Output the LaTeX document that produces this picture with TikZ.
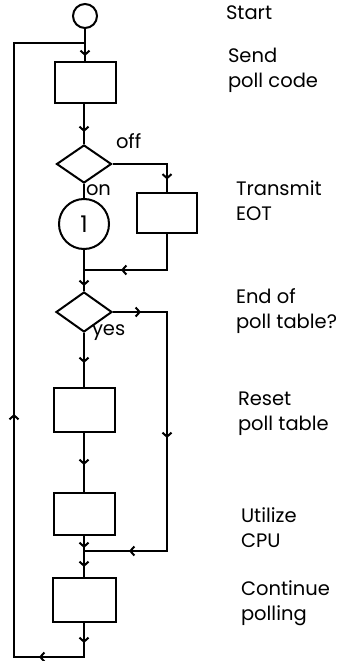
\documentclass[tikz,border=0pt]{standalone}
\usepackage{fontspec}
\setmainfont{Poppins}
\usetikzlibrary{shapes.geometric,arrows.meta,decorations.markings}
\begin{document}
\begin{tikzpicture}[x=1pt,y=-1pt, line width=2pt,
  box/.style={draw, rectangle, minimum width=61pt, minimum height=42pt, inner sep=0pt},
  dia/.style={draw, diamond, minimum width=56pt, minimum height=39pt, inner sep=0pt},
  conn/.style={draw, circle, inner sep=0pt},
  lbl/.style={anchor=base west, inner sep=0pt, font=\fontsize{19.5}{25}\selectfont},
  ms/.style={postaction={decorate, decoration={markings, mark=at position #1pt with {\arrow{Straight Barb[length=4pt,width=9pt]}}}}},
]
\useasboundingbox (0,0) rectangle (363,661);
% nodes
\node[conn, minimum size=24pt] (start) at (85,16) {};
\node[box, minimum height=41pt] (send) at (85,82.5) {};
\node[dia, minimum width=55pt, minimum height=38pt] (d1) at (84,164) {};
\node[conn, minimum size=50pt, font=\fontsize{23}{26}\selectfont] (c1) at (84,224) {1};
\node[box, minimum width=60pt, minimum height=40pt] (tx) at (167,213) {};
\node[dia, minimum width=56pt, minimum height=40pt] (d2) at (84,312) {};
\node[box, minimum height=44pt] (reset) at (84,410) {};
\node[box, minimum height=42pt] (util) at (84,514) {};
\node[box, minimum width=63pt, minimum height=44pt] (cont) at (84,600) {};
% coordinates
\coordinate (j0) at (85,43);
\coordinate (lt) at (14,43);
\coordinate (lb) at (14,657);
\coordinate (jb) at (84,657);
\coordinate (o1) at (167,164);
\coordinate (j1) at (84,270);
\coordinate (r1) at (167,312);
\coordinate (r2) at (167,551);
\coordinate (j2) at (84,551);
% connectors
\draw[ms=27] (start) -- (send);
\draw[ms=28] (send.south -| d1) -- (d1);
\draw[ms=70] (d1.east) -- (o1) -- (tx);
\draw (d1) -- (c1);
\draw[ms=82] (tx) -- (tx |- j1) -- (j1);
\draw[ms=36] (c1) -- (d2);
\draw[ms=28, ms=180, ms=331] (d2.east) -- (r1) -- (r2) -- (j2);
\draw[ms=30] (d2) -- (reset);
\draw[ms=32] (reset) -- (util);
\draw[ms=12, ms=31] (util) -- (cont);
\draw[ms=20, ms=79, ms=347] (cont) -- (jb) -- (lb) -- (lt) -- (j0);
% branch labels
\node[lbl] (off) at (115,148) {off};
\node[lbl] (on) at (85,195) {on};
\node[lbl] (yes) at (91,335) {yes};
% side labels
\node[lbl] (tStart) at (225,20) {Start};
\node[lbl] (tSend) at (227,63) {\begin{tabular}[t]{@{}l@{}}Send\\poll code\end{tabular}};
\node[lbl] (tTx) at (235,195) {\begin{tabular}[t]{@{}l@{}}Transmit\\EOT\end{tabular}};
\node[lbl] (tEnd) at (235,303) {\begin{tabular}[t]{@{}l@{}}End of\\poll table?\end{tabular}};
\node[lbl] (tReset) at (237,405) {\begin{tabular}[t]{@{}l@{}}Reset\\poll table\end{tabular}};
\node[lbl] (tUtil) at (240,522) {\begin{tabular}[t]{@{}l@{}}Utilize\\CPU\end{tabular}};
\node[lbl] (tCont) at (240,595) {\begin{tabular}[t]{@{}l@{}}Continue\\polling\end{tabular}};
\end{tikzpicture}
\end{document}
